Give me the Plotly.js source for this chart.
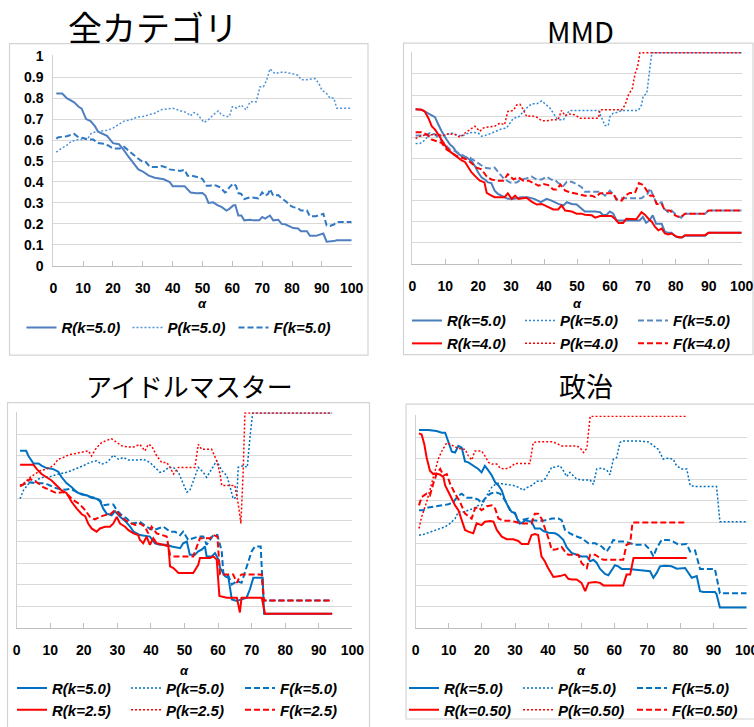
<!DOCTYPE html>
<html><head><meta charset="utf-8">
<script src="https://cdn.plot.ly/plotly-3.0.1.min.js"></script>
<style>html,body{margin:0;padding:0;background:#fff}#chart{width:754px;height:727px}</style>
</head><body><div id="chart"></div>
<script>
// ---------- Panel 1: 全カテゴリ ----------
const allR_x = [1,3,4.5,6,7,8.4,9.5,11,12.5,14,15,18,20,22,23.5,25,27,28.5,30,32,34,37,39,40,42.5,44,46,48,50,51,52,53.6,55,56.5,58,59,60.3,61,62,63,64,66,67,69,70,71,72.6,73.7,75.4,76.5,77.7,79.3,80.4,82,83,85,86,88,90,90.5,91.6,92.7,94,95,100];
const allR_y = [0.822,0.822,0.80,0.79,0.78,0.76,0.75,0.70,0.69,0.665,0.64,0.62,0.585,0.58,0.555,0.524,0.484,0.46,0.45,0.43,0.42,0.413,0.40,0.38,0.38,0.38,0.35,0.346,0.347,0.335,0.30,0.303,0.29,0.28,0.264,0.272,0.288,0.29,0.24,0.24,0.217,0.22,0.217,0.217,0.233,0.225,0.24,0.217,0.22,0.20,0.198,0.185,0.18,0.178,0.165,0.165,0.143,0.143,0.15,0.154,0.115,0.115,0.118,0.122,0.122];
const allP_x = [1,2.2,4.5,6,8.4,10,11.7,12.8,14.5,18,20,22,23.5,26,28,30,32,34,36,38,40,42.5,44.7,46,47,48,49.7,50.5,52,53.6,55.3,56.4,58,59,60,61.5,63,64.6,66,68,69.3,70.4,71.5,72.6,74.3,77,80,82,83,85,87.7,89,90,91.6,92.7,94,95,100];
const allP_y = [0.542,0.555,0.574,0.594,0.602,0.602,0.61,0.634,0.64,0.646,0.657,0.673,0.689,0.697,0.709,0.712,0.72,0.728,0.744,0.748,0.752,0.74,0.731,0.715,0.731,0.728,0.697,0.684,0.697,0.72,0.739,0.72,0.712,0.712,0.759,0.752,0.767,0.744,0.783,0.783,0.854,0.854,0.885,0.94,0.917,0.925,0.917,0.909,0.888,0.888,0.893,0.87,0.838,0.822,0.80,0.80,0.752,0.752];
const allF_x = [1,1.7,4.5,6,7,8.4,10,11.7,13.4,15,16.8,18.4,20,22.3,23.7,25,27,28.5,30,31,32.4,35,36.3,38,39,40,42.5,44,45,46.4,48,49,50,51.4,52.5,53.6,54.7,56,57.5,58,59,60.3,61.2,62,63,64,66,67,68.7,70,71,72,72.6,73.7,75.4,76.5,78,79.3,80.4,82,83,85,86,88,90,90.5,91.6,92.7,94,95,100];
const allF_y = [0.607,0.613,0.618,0.623,0.629,0.613,0.61,0.602,0.602,0.586,0.582,0.574,0.56,0.56,0.568,0.552,0.531,0.511,0.495,0.495,0.472,0.472,0.476,0.469,0.46,0.458,0.453,0.458,0.43,0.43,0.426,0.421,0.414,0.382,0.382,0.387,0.382,0.374,0.35,0.354,0.374,0.393,0.382,0.347,0.343,0.319,0.327,0.324,0.322,0.35,0.335,0.343,0.366,0.335,0.338,0.322,0.307,0.288,0.28,0.275,0.264,0.264,0.236,0.237,0.244,0.248,0.193,0.19,0.197,0.209,0.209];

// ---------- Panel 2: MMD ----------
const mmdR5_x = [1,2.8,4.4,5.9,6.9,7.9,8.9,10.4,11.4,12.4,13.5,15,16.5,18,19,20,21,22,23,24,25,26,27,28,29,31,33,35,37,39,40.8,42.3,44.3,45.9,46.9,48.4,49.9,51.4,52.4,55.5,57,58,59,60,61,62,64.6,69,70,71,72,73,74,75.7,76.7,77.7,78.7,79.8,80.8,81.8,82.8,88.9,89.9,100];
const mmdR5_y = [0.733,0.73,0.717,0.706,0.695,0.66,0.628,0.589,0.566,0.553,0.527,0.511,0.503,0.488,0.464,0.433,0.41,0.40,0.386,0.383,0.347,0.331,0.323,0.316,0.308,0.308,0.316,0.316,0.308,0.292,0.308,0.30,0.284,0.277,0.292,0.284,0.281,0.261,0.248,0.248,0.245,0.23,0.233,0.248,0.238,0.206,0.206,0.206,0.222,0.195,0.206,0.23,0.19,0.19,0.152,0.147,0.147,0.131,0.125,0.125,0.133,0.133,0.147,0.147];
const mmdP5_x = [1,2.3,3.3,4.9,6.4,7.9,9.9,11.9,14,15.5,17,18.5,20,21,22.6,24,25.6,27,28.6,29.7,30.7,32.2,33.2,34.7,36.2,37.8,39.3,40.8,41.8,42.8,43.8,44.8,45.9,46.9,47.9,56.5,57.5,58.5,59.5,60,61,62,63.6,68.6,69.6,70.1,71.2,71.9,72.7,100];
const mmdP5_y = [0.57,0.57,0.58,0.605,0.616,0.605,0.608,0.62,0.608,0.608,0.62,0.623,0.62,0.605,0.61,0.62,0.628,0.639,0.644,0.667,0.69,0.695,0.714,0.738,0.758,0.758,0.772,0.753,0.738,0.714,0.69,0.683,0.683,0.711,0.727,0.727,0.69,0.655,0.655,0.698,0.714,0.717,0.727,0.727,0.753,0.795,0.808,0.894,1.0,1.0];
const mmdF5_x = [1,2.8,4.4,5.4,6.9,8.4,9.9,11.4,13,14.5,16,17.5,19,20.5,22,23.6,25,26.6,28,29.7,31.7,33.2,34.7,36.2,37.8,39.3,40.8,42.3,43.3,44.3,45.9,46.9,48.4,49.9,51.4,52.4,57,58.5,60,61,62,63.6,69.6,70.6,71.4,72.2,73.2,74.2,75.7,76.5,77.7,78.7,80.3,81.6,82.8,88.9,89.9,100];
const mmdF5_y = [0.608,0.608,0.613,0.62,0.613,0.589,0.566,0.542,0.534,0.519,0.508,0.503,0.488,0.472,0.456,0.452,0.456,0.425,0.40,0.386,0.386,0.40,0.405,0.414,0.40,0.40,0.413,0.398,0.398,0.383,0.37,0.389,0.389,0.378,0.363,0.342,0.342,0.323,0.347,0.331,0.305,0.311,0.311,0.323,0.331,0.358,0.323,0.284,0.292,0.261,0.245,0.253,0.23,0.219,0.238,0.238,0.253,0.253];
const mmdR4_x = [1,2.8,3.8,4.9,5.9,6.9,7.9,8.9,10.4,11.9,13.5,15,16,17,18,19,20.5,21.9,22.6,23.6,25,28,29,30.2,31.2,32.2,33.7,34.7,36.2,37.8,39.3,41.3,42.8,44.3,45.3,46.4,48.4,49.9,51.4,52.4,54.5,55.5,57,60.5,61.5,62.6,64,65,68,69.6,70.6,71.7,72.7,73.7,74.7,75.7,76.7,77.7,78.7,80.3,81.8,82.8,88.9,89.9,100];
const mmdR4_y = [0.733,0.73,0.722,0.69,0.652,0.636,0.613,0.589,0.55,0.527,0.508,0.49,0.483,0.456,0.433,0.417,0.394,0.386,0.336,0.327,0.316,0.316,0.334,0.308,0.323,0.308,0.311,0.313,0.295,0.281,0.284,0.269,0.258,0.258,0.277,0.253,0.248,0.238,0.238,0.233,0.23,0.219,0.227,0.227,0.214,0.194,0.194,0.214,0.211,0.245,0.233,0.214,0.20,0.175,0.159,0.167,0.144,0.139,0.144,0.128,0.125,0.136,0.136,0.147,0.147];
const mmdP4_x = [1,2.3,3.8,5.9,7.9,9.4,10.9,13,14.5,16,17.5,19,20.5,21.6,23,25,26.6,28,29,30.7,31.7,32.7,33.7,34.7,36.2,37.8,39.3,40.8,42.8,44.3,45.3,46.4,47.4,49.4,50.9,56.5,57,63.6,64.6,65.6,66.8,67.6,68.4,69.1,100];
const mmdP4_y = [0.594,0.605,0.61,0.613,0.613,0.608,0.616,0.613,0.60,0.62,0.636,0.652,0.628,0.644,0.648,0.652,0.667,0.659,0.722,0.727,0.753,0.756,0.73,0.698,0.702,0.695,0.678,0.678,0.683,0.683,0.727,0.702,0.711,0.706,0.69,0.69,0.73,0.73,0.753,0.80,0.831,0.90,0.933,1.0,1.0];
const mmdF4_x = [1,2.8,4.4,5.9,7.4,8.9,10.4,11.9,13.5,15,16.5,18,19.5,21,22.6,24,26,27.6,29,30.7,32.2,33.7,35.3,36.8,38.3,39.8,41.3,42.8,43.8,45,46.4,47.9,49.4,50.9,52.4,54.5,55.5,57,61,62,63.6,64.6,66,67.6,68.8,70.1,71.2,72.2,73.2,74.2,75.7,76.7,78.2,79.8,81.3,82.8,88.9,89.9,100];
const mmdF4_y = [0.623,0.623,0.613,0.589,0.581,0.573,0.542,0.527,0.511,0.503,0.495,0.477,0.456,0.448,0.414,0.40,0.394,0.394,0.425,0.40,0.41,0.394,0.394,0.383,0.37,0.378,0.373,0.352,0.352,0.375,0.347,0.339,0.334,0.331,0.323,0.323,0.316,0.334,0.334,0.305,0.30,0.323,0.336,0.336,0.383,0.373,0.347,0.323,0.323,0.284,0.284,0.253,0.253,0.23,0.219,0.238,0.238,0.253,0.253];

// ---------- Panel 3: アイドルマスター ----------
const idR5_x = [1,2.8,3.5,5,6.5,7.4,8.9,10.9,12.4,13.4,14.9,16.4,17.9,19.4,20.9,22.3,23.8,24.8,25.8,26.8,28.3,29.3,30.8,32.3,33.8,34.8,36.7,39.7,41.2,42.7,44.7,46.2,48.7,49.6,50.7,51.6,53.1,54.1,55.1,56.1,56.6,58.1,59.1,60.1,60.6,62.1,63.1,64.1,65.6,67,68.5,69.5,70.5,72.5,73.3,73.7,94];
const idR5_y = [0.824,0.824,0.80,0.765,0.765,0.755,0.744,0.739,0.727,0.701,0.673,0.655,0.632,0.621,0.617,0.606,0.601,0.59,0.555,0.532,0.524,0.543,0.517,0.498,0.471,0.448,0.432,0.425,0.394,0.387,0.387,0.379,0.371,0.394,0.402,0.34,0.34,0.356,0.364,0.379,0.333,0.333,0.348,0.318,0.279,0.241,0.233,0.133,0.126,0.133,0.141,0.18,0.233,0.233,0.233,0.066,0.066];
const idP5_x = [1,2,3.5,5,6.5,7.9,9.9,12.4,14.9,17.4,19.9,21.8,23.8,25.3,26.8,27.8,28.8,30.3,31.8,33.3,36.2,37.7,39.7,41.2,42.7,44.2,45.2,46.7,48.2,49.2,50.7,51.6,53.1,54.1,55.6,56.6,58.1,59.6,61.1,62.6,63.6,64.5,65.6,66,67.5,68.7,69.5,70.3,94];
const idP5_y = [0.601,0.64,0.67,0.678,0.693,0.701,0.704,0.716,0.724,0.739,0.755,0.77,0.778,0.762,0.77,0.785,0.804,0.785,0.793,0.781,0.781,0.785,0.77,0.747,0.724,0.732,0.747,0.747,0.724,0.686,0.632,0.64,0.709,0.747,0.724,0.701,0.739,0.778,0.732,0.709,0.655,0.601,0.609,0.747,0.755,0.747,0.885,1.0,1.0];
const idF5_x = [1,2.5,4,6,7.9,9.4,10.9,12.4,14.4,15.9,17.4,19.4,21.3,23.3,24.8,25.8,27.3,28.8,29.8,31.3,32.8,34.3,35.7,36.7,38.7,40.7,42.2,43.7,45.7,47.2,48.7,49.6,51.1,52.6,54.1,55.6,56.6,57.6,58.6,59.8,61.1,61.6,63.1,64.1,65.6,67,68.5,70,71,72.7,73.5,94];
const idF5_y = [0.663,0.67,0.678,0.673,0.673,0.667,0.655,0.647,0.643,0.647,0.636,0.624,0.612,0.606,0.594,0.571,0.574,0.574,0.548,0.525,0.509,0.486,0.489,0.494,0.471,0.455,0.463,0.471,0.448,0.448,0.432,0.448,0.41,0.417,0.425,0.425,0.387,0.41,0.432,0.432,0.356,0.249,0.241,0.202,0.218,0.21,0.279,0.356,0.379,0.379,0.128,0.128];
const idR25_x = [1,5,6,7.4,8.9,10.4,11.9,13.4,14.9,16.4,17.9,19.4,20.4,21.3,22.3,23.8,24.8,26.3,27.8,28.8,29.8,30.8,32.3,33.3,34.8,36.2,36.7,37.7,38.7,39.7,40.7,41.7,43.7,45.2,45.7,46.7,48.2,52.6,54.1,54.6,57.6,58.6,59.6,60.4,62.6,65.6,66.5,67,73,74,94];
const idR25_y = [0.759,0.759,0.739,0.716,0.701,0.686,0.663,0.64,0.627,0.586,0.555,0.529,0.52,0.486,0.463,0.448,0.463,0.471,0.471,0.486,0.517,0.486,0.471,0.455,0.44,0.432,0.41,0.394,0.425,0.387,0.417,0.394,0.387,0.379,0.287,0.279,0.256,0.256,0.294,0.325,0.325,0.333,0.318,0.149,0.141,0.141,0.072,0.141,0.141,0.066,0.066];
const idP25_x = [1,2.5,4,5.5,7,8.9,10.9,12.4,13.9,15.4,17.4,19.9,21.4,22.3,23.8,25.3,26.8,28.3,29.8,31.3,33.3,34.8,36.7,38.2,39.2,40.2,41.7,43.2,44.7,45.7,46.7,48.2,53.1,54.1,55.1,58.1,59.6,60.6,61.1,65,66,66.8,67.5,68,94];
const idP25_y = [0.663,0.678,0.701,0.716,0.732,0.739,0.755,0.785,0.793,0.805,0.811,0.816,0.824,0.80,0.839,0.862,0.873,0.88,0.862,0.847,0.842,0.842,0.854,0.824,0.854,0.847,0.801,0.77,0.77,0.747,0.716,0.747,0.747,0.854,0.831,0.831,0.778,0.716,0.663,0.663,0.578,0.486,0.732,1.0,1.0];
const idF25_x = [1,2.5,4,5,6.5,7.9,9.9,11.9,13.9,15.4,16.9,18.9,20.4,21.8,23.3,24.8,26.3,27.8,29.3,30.8,32.3,33.8,35.3,36.7,38.2,39.2,40.2,41.7,43.2,44.7,45.7,46.7,52.6,53.6,54.6,57.6,58.6,59.8,60.6,64.5,65.6,66.5,67,73,73.7,94];
const idF25_y = [0.658,0.673,0.693,0.686,0.673,0.655,0.64,0.627,0.632,0.617,0.594,0.574,0.548,0.517,0.505,0.517,0.525,0.528,0.548,0.525,0.502,0.489,0.479,0.486,0.471,0.44,0.471,0.44,0.432,0.425,0.34,0.333,0.333,0.379,0.417,0.417,0.432,0.425,0.249,0.249,0.21,0.241,0.249,0.249,0.128,0.128];

// ---------- Panel 4: 政治 ----------
const polR5_x = [1,3.8,6.3,7.9,8.9,9.9,10.9,11.9,12.9,13.9,14.9,15.9,17.4,18.9,19.9,20.9,22,23,24,25,26,27,28,29,30,31,32,33,34,35,36,37.6,38.6,40.1,42.1,43.1,44.6,45.6,47.1,48.6,50.1,51.7,52.7,53.7,54.7,55.7,57.2,58.2,59.2,60.2,61.2,62.2,64.3,66.3,69.3,70.8,71.8,72.8,73.8,75.3,77.3,78.9,81.4,82.4,83.4,84.9,85.9,86.9,90.4,90.9,91.9,100];
const polR5_y = [0.935,0.935,0.93,0.922,0.922,0.875,0.833,0.829,0.86,0.852,0.787,0.782,0.766,0.751,0.735,0.766,0.743,0.72,0.688,0.673,0.65,0.603,0.572,0.548,0.544,0.502,0.494,0.509,0.505,0.502,0.47,0.47,0.458,0.45,0.447,0.439,0.416,0.382,0.354,0.346,0.338,0.338,0.315,0.322,0.307,0.279,0.255,0.249,0.276,0.296,0.291,0.279,0.279,0.276,0.273,0.268,0.237,0.26,0.291,0.294,0.291,0.28,0.283,0.26,0.237,0.245,0.174,0.17,0.17,0.159,0.097,0.097];
const polP5_x = [1,1.8,3.3,4.8,6.8,8.9,10.4,11.9,12.9,14.4,15.9,17.4,18.9,19.9,20.9,22,23,24.5,26,28,29.5,31,32.5,33.5,35,36.6,38,39.1,40.1,41.1,42.1,43.6,44.6,45.6,46.6,47.6,48.6,50.1,52.7,53.7,54.7,56.2,57.7,58.7,59.7,60.7,61.7,62.2,67.3,70.3,71.8,73.3,74.8,76.3,77.8,78.8,80.4,81.9,82.9,84.4,90.9,91.9,100];
const polP5_y = [0.439,0.439,0.447,0.455,0.466,0.478,0.494,0.517,0.548,0.548,0.556,0.564,0.579,0.579,0.606,0.642,0.665,0.684,0.681,0.678,0.673,0.665,0.65,0.662,0.673,0.693,0.693,0.704,0.735,0.759,0.759,0.766,0.743,0.715,0.735,0.72,0.704,0.699,0.699,0.678,0.751,0.755,0.746,0.724,0.797,0.805,0.875,0.883,0.883,0.879,0.86,0.844,0.797,0.802,0.797,0.766,0.751,0.751,0.673,0.668,0.668,0.502,0.502];
const polF5_x = [1,2.3,3.8,5.8,7.9,9.9,11.4,12.9,13.9,15.4,17.4,18.9,19.9,20.9,22.5,24,25.5,27,28.5,30,31.5,32.5,34,35.5,37,39.6,41.1,43.1,44.1,45.1,46.6,48.1,50.1,52.2,54.2,56.2,57.7,58.7,59.7,61.2,63.2,64.8,66.3,69.3,70.8,71.8,72.8,74.3,76.3,77.8,79.4,81.9,82.9,84.4,85.9,90.4,91.9,100];
const polF5_y = [0.556,0.556,0.569,0.575,0.579,0.584,0.595,0.626,0.634,0.615,0.615,0.606,0.59,0.611,0.634,0.642,0.634,0.603,0.556,0.54,0.494,0.512,0.517,0.509,0.506,0.509,0.517,0.517,0.509,0.463,0.447,0.435,0.424,0.40,0.40,0.385,0.361,0.385,0.416,0.408,0.408,0.40,0.393,0.393,0.369,0.338,0.377,0.416,0.416,0.408,0.393,0.396,0.361,0.366,0.279,0.279,0.164,0.164];
const polR05_x = [1,1.8,2.6,3.3,4.3,5.3,6.3,7.4,8.4,8.9,9.9,10.9,11.9,12.9,13.9,14.9,15.9,17.4,18.4,19.9,20.9,22.5,23.5,24.5,26,27.5,29.5,31,32,34,35,36,37,38,39,40,41.6,43.6,45.1,46.1,47.1,48.6,50.1,51.2,52.2,54.2,55.7,56.7,62.7,63.7,64.8,65.8,81.9];
const polR05_y = [0.919,0.914,0.868,0.805,0.743,0.727,0.73,0.724,0.712,0.673,0.642,0.611,0.579,0.556,0.509,0.463,0.455,0.447,0.494,0.486,0.502,0.505,0.502,0.463,0.431,0.419,0.419,0.411,0.397,0.397,0.439,0.444,0.439,0.338,0.315,0.283,0.241,0.245,0.252,0.232,0.229,0.229,0.213,0.174,0.213,0.217,0.213,0.201,0.201,0.252,0.252,0.33,0.33];
const polP05_x = [1,1.8,3.3,4.8,5.8,6.8,7.9,9.4,10.4,11.4,12.4,13.9,14.9,15.9,16.9,17.9,19.9,20.9,22,23,24.5,25.5,27,28.5,30,34.5,35.5,36.6,41.1,42.1,44.1,48.6,49.6,50.7,51.7,52.7,81.9];
const polP05_y = [0.47,0.525,0.595,0.681,0.743,0.797,0.836,0.875,0.868,0.86,0.852,0.844,0.844,0.813,0.793,0.836,0.836,0.813,0.782,0.774,0.774,0.755,0.751,0.759,0.777,0.777,0.875,0.88,0.88,0.875,0.86,0.86,0.852,0.829,0.849,1.0,1.0];
const polF05_x = [1,1.8,3.3,4.3,5.3,6.3,7.4,8.4,9.4,10.4,11.9,13.4,14.9,15.9,16.9,17.9,18.9,19.9,21.5,23,24,25,26.5,28.5,30,31.5,35,36,37,38,39.1,40.1,41.1,42.6,44.1,45.1,46.1,49.1,50.1,51.7,52.7,54.2,55.7,56.7,62.7,63.7,64.8,65.5,81.9];
const polF05_y = [0.579,0.618,0.634,0.626,0.681,0.727,0.751,0.72,0.727,0.681,0.634,0.595,0.54,0.528,0.517,0.564,0.572,0.556,0.575,0.579,0.564,0.517,0.506,0.506,0.502,0.494,0.494,0.54,0.54,0.517,0.47,0.424,0.369,0.372,0.382,0.361,0.346,0.346,0.307,0.283,0.346,0.346,0.33,0.322,0.322,0.393,0.40,0.498,0.498];

// ---------- labels ----------
const panelTitles = ['全カテゴリ', 'MMD', 'アイドルマスター', '政治'];
const xTitle = 'α';
const names = {
  all: ['R(k=5.0)', 'P(k=5.0)', 'F(k=5.0)'],
  mmd: ['R(k=5.0)', 'P(k=5.0)', 'F(k=5.0)', 'R(k=4.0)', 'P(k=4.0)', 'F(k=4.0)'],
  idol: ['R(k=5.0)', 'P(k=5.0)', 'F(k=5.0)', 'R(k=2.5)', 'P(k=2.5)', 'F(k=2.5)'],
  pol: ['R(k=5.0)', 'P(k=5.0)', 'F(k=5.0)', 'R(k=0.50)', 'P(k=0.50)', 'F(k=0.50)']
};

// ---------- styling & layout helpers ----------
const W = 754, H = 727;
const px = v => v / W;
const py = v => 1 - v / H;
const DOT = '2px,2px', DASH = '6px,3px';
const RED = '#ff0000';

function tr(x, y, name, color, dash, width, ax, leg) {
  return {
    type: 'scatter', mode: 'lines', x: x, y: y, name: name,
    xaxis: 'x' + ax, yaxis: 'y' + ax, legend: leg,
    line: {color: color, dash: dash, width: width},
    hoverinfo: 'skip'
  };
}

const data = [
  tr(allR_x, allR_y, names.all[0], '#4f7fc0', 'solid', 2, '', 'legend'),
  tr(allP_x, allP_y, names.all[1], '#4f93d8', DOT, 1.5, '', 'legend'),
  tr(allF_x, allF_y, names.all[2], '#2f78c4', DASH, 2, '', 'legend'),

  tr(mmdR5_x, mmdR5_y, names.mmd[0], '#4a7ebb', 'solid', 2, '2', 'legend2'),
  tr(mmdP5_x, mmdP5_y, names.mmd[1], '#2e8ad8', DOT, 1.5, '2', 'legend2'),
  tr(mmdF5_x, mmdF5_y, names.mmd[2], '#5b89c4', DASH, 2, '2', 'legend2'),
  tr(mmdR4_x, mmdR4_y, names.mmd[3], RED, 'solid', 2, '2', 'legend3'),
  tr(mmdP4_x, mmdP4_y, names.mmd[4], RED, DOT, 1.5, '2', 'legend3'),
  tr(mmdF4_x, mmdF4_y, names.mmd[5], RED, DASH, 2, '2', 'legend3'),

  tr(idR5_x, idR5_y, names.idol[0], '#0070c0', 'solid', 2, '3', 'legend4'),
  tr(idP5_x, idP5_y, names.idol[1], '#0070c0', DOT, 1.5, '3', 'legend4'),
  tr(idF5_x, idF5_y, names.idol[2], '#0070c0', DASH, 2, '3', 'legend4'),
  tr(idR25_x, idR25_y, names.idol[3], RED, 'solid', 2, '3', 'legend5'),
  tr(idP25_x, idP25_y, names.idol[4], RED, DOT, 1.5, '3', 'legend5'),
  tr(idF25_x, idF25_y, names.idol[5], RED, DASH, 2, '3', 'legend5'),

  tr(polR5_x, polR5_y, names.pol[0], '#0070c0', 'solid', 2, '4', 'legend6'),
  tr(polP5_x, polP5_y, names.pol[1], '#0070c0', DOT, 1.5, '4', 'legend6'),
  tr(polF5_x, polF5_y, names.pol[2], '#0070c0', DASH, 2, '4', 'legend6'),
  tr(polR05_x, polR05_y, names.pol[3], RED, 'solid', 2, '4', 'legend7'),
  tr(polP05_x, polP05_y, names.pol[4], RED, DOT, 1.5, '4', 'legend7'),
  tr(polF05_x, polF05_y, names.pol[5], RED, DASH, 2, '4', 'legend7')
];

const tickFont = {family: 'Liberation Sans, Arial, sans-serif', size: 14, color: '#000', weight: 'bold'};
function xax(l, r, anchor) {
  return {domain: [px(l), px(r)], anchor: anchor, range: [0, 100], tickmode: 'linear', tick0: 0, dtick: 10,
    showgrid: false, zeroline: false, showline: true, linecolor: '#bfbfbf', linewidth: 1,
    ticks: 'inside', ticklen: 5, tickcolor: '#bfbfbf', tickfont: tickFont, ticklabelstandoff: 9,
    ticklabeloverflow: 'allow', fixedrange: true};
}
function yax(b, t, anchor, labels) {
  return {domain: [py(b), py(t)], anchor: anchor, range: [0, 1.004], tickmode: 'linear', tick0: 0, dtick: 0.1,
    showgrid: true, gridcolor: '#d9d9d9', gridwidth: 1, zeroline: false, showline: true, linecolor: '#d0d0d0',
    ticks: '', showticklabels: labels, tickfont: tickFont, ticklabelstandoff: 6, fixedrange: true};
}

const legFont = {family: 'Liberation Sans, Arial, sans-serif', size: 15, color: '#000', style: 'italic', weight: 'bold'};
function leg(xLeft, yMid, ew) {
  return {orientation: 'h', x: px(xLeft), y: py(yMid), xanchor: 'left', yanchor: 'middle',
    bgcolor: 'rgba(0,0,0,0)', borderwidth: 0, font: legFont, entrywidth: ew, entrywidthmode: 'pixels',
    itemwidth: 30, itemclick: false, itemdoubleclick: false};
}

function title(text, x, y, size, anchor) {
  return {text: text, x: px(x), y: py(y), xref: 'paper', yref: 'paper', xanchor: 'center', yanchor: anchor || 'middle',
    showarrow: false, font: {family: 'Noto Sans CJK JP, Noto Sans, sans-serif', size: size, color: '#000'}};
}
function alpha(x, y) {
  return {text: xTitle, x: px(x), y: py(y), xref: 'paper', yref: 'paper', xanchor: 'center', yanchor: 'middle',
    showarrow: false, font: {family: 'Liberation Sans, Arial, sans-serif', size: 13, color: '#000', style: 'italic', weight: 'bold'}};
}
function box(l, t, r, b) {
  return {type: 'rect', xref: 'paper', yref: 'paper', x0: px(l), x1: px(r), y0: py(b), y1: py(t),
    line: {color: '#d4d4d4', width: 1.2}, fillcolor: 'rgba(0,0,0,0)', layer: 'below'};
}

const layout = {
  width: W, height: H, margin: {l: 0, r: 0, t: 0, b: 0},
  paper_bgcolor: '#fff', plot_bgcolor: '#fff', showlegend: true,
  xaxis: xax(53.3, 351.7, 'y'), yaxis: yax(267.7, 55.7, 'x', true),
  xaxis2: xax(412.3, 741.7, 'y2'), yaxis2: yax(265.7, 52.3, 'x2', false),
  xaxis3: xax(16.7, 352.3, 'y3'), yaxis3: yax(632.3, 415, 'x3', false),
  xaxis4: xax(415.7, 746.7, 'y4'), yaxis4: yax(632.3, 418.3, 'x4', false),
  legend: leg(21.5, 330, 61),
  legend2: leg(407, 323, 68), legend3: leg(407, 346, 68),
  legend4: leg(12, 693, 69), legend5: leg(12, 715, 69),
  legend6: leg(404, 693, 69), legend7: leg(404, 715, 69),
  annotations: [
    title(panelTitles[0], 153, 0, 34, 'top'), title(panelTitles[1], 580, 30, 29),
    title(panelTitles[2], 189, 388, 26), title(panelTitles[3], 586, 388, 27),
    alpha(202.5, 306), alpha(577, 306), alpha(184.5, 675), alpha(581, 675)
  ],
  shapes: [box(9.5, 44, 368, 357.5), box(403.5, 43.5, 753, 357), box(7.5, 405.5, 369.5, 740), box(406, 407, 760, 724)]
};

Plotly.newPlot('chart', data, layout, {staticPlot: true, displayModeBar: false});
</script></body></html>
